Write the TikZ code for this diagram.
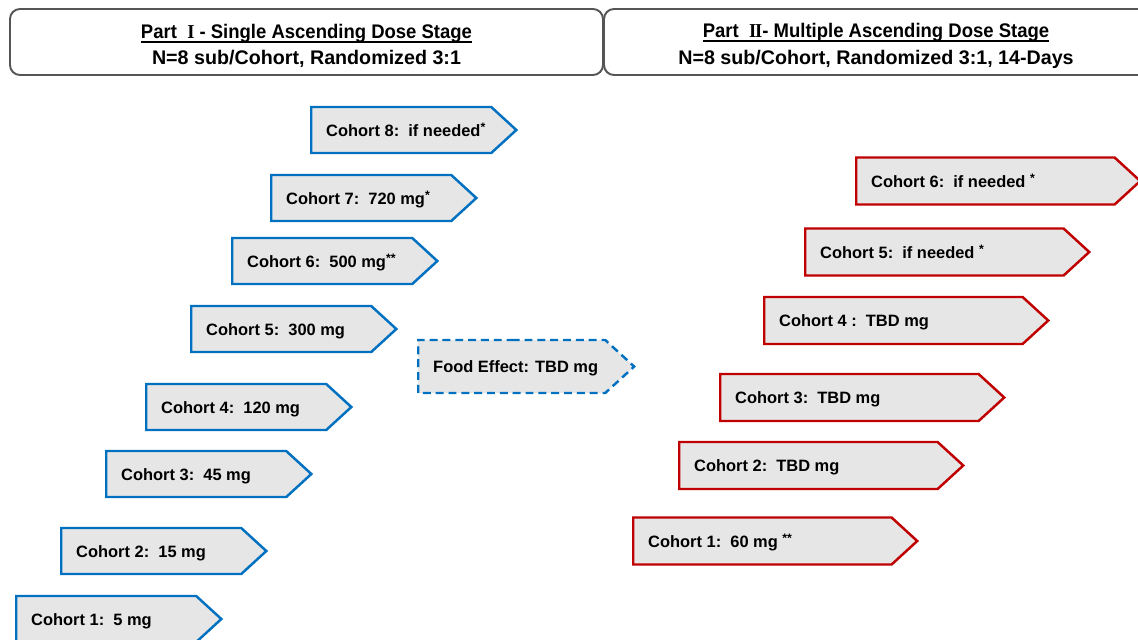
\documentclass[tikz,border=0pt]{standalone}
\usepackage{fontspec}
\usepackage{graphicx}
\setmainfont{Liberation Sans}
\newfontfamily\romfont{Liberation Serif}
\usetikzlibrary{shapes.symbols}
\definecolor{sadblue}{RGB}{0,112,192}
\definecolor{madred}{RGB}{192,0,0}
\definecolor{boxgray}{RGB}{231,230,230}
\definecolor{headgray}{RGB}{85,85,85}
\newcommand{\partline}[1]{\setbox0\hbox{\scalebox{0.94}[1]{#1}}\rule{0pt}{12.5pt}\rlap{\rule[-2.6pt]{\wd0}{0.9pt}}\box0}
\newcommand{\sstar}[1]{\raisebox{0.55ex}{\scriptsize #1}}
\tikzset{cohort/.style = {signal, signal to=east, signal pointer angle=85,
                          fill=boxgray, line width=1.4pt, anchor=west,
                          inner xsep=0.3cm, inner ysep=0,
                          text height=8.5pt, text depth=1.5pt,
                          execute at end node={\hss\egroup},
                          font=\fontsize{9.35}{11}\selectfont\bfseries}}
\tikzset{sad/.style = {cohort, draw=sadblue, minimum height=0.92cm,
                       execute at begin node={\hbox to 3.0cm\bgroup}}}
\tikzset{mad/.style = {cohort, draw=madred, minimum height=0.94cm,
                       execute at begin node={\hbox to 4.567cm\bgroup}}}
\tikzset{header/.style = {draw=headgray, line width=1.1pt, rounded corners=0.2cm,
                          minimum height=1.32cm, align=center,
                          font=\fontsize{11.2}{15.3}\selectfont\bfseries}}

\begin{document}
\begin{tikzpicture}
      \useasboundingbox (0, 0) rectangle (22.76, -12.78);
      \node [header, minimum width=11.86cm] (partone) at (6.13, -0.84)
            {\partline{Part \ {\romfont I} - Single Ascending Dose Stage}\\N=8 sub/Cohort, Randomized 3:1};
      \node [header, minimum width=10.88cm] (parttwo) at (17.52, -0.84)
            {\partline{Part \ {\romfont I\kern-0.06emI}- Multiple Ascending Dose Stage}\\N=8 sub/Cohort, Randomized 3:1, 14-Days};
      \node [sad] (b8) at (6.2, -2.6) {Cohort 8:\ \ if needed\sstar{*}};
      \node [sad] (b7) at (5.4, -3.96) {Cohort 7:\ \ 720 mg\sstar{*}};
      \node [sad] (b6) at (4.62, -5.22) {Cohort 6:\ \ 500 mg\sstar{**}};
      \node [sad] (b5) at (3.8, -6.58) {Cohort 5:\ \ 300 mg};
      \node [sad] (b4) at (2.9, -8.14) {Cohort 4:\ \ 120 mg};
      \node [sad] (b3) at (2.1, -9.48) {Cohort 3:\ \ 45 mg};
      \node [sad] (b2) at (1.2, -11.02) {Cohort 2:\ \ 15 mg};
      \node [sad] (b1) at (0.3, -12.38) {Cohort 1:\ \ 5 mg};
      \node [cohort, draw=sadblue, dashed, dash pattern=on 4.5pt off 2.8pt,
             minimum height=1.06cm, execute at begin node={\hbox to 3.14cm\bgroup}]
            (food) at (8.34, -7.33) {Food Effect: TBD mg};
      \node [mad] (r6) at (17.1, -3.62) {Cohort 6:\ \ if needed \sstar{*}};
      \node [mad] (r5) at (16.08, -5.04) {Cohort 5:\ \ if needed \sstar{*}};
      \node [mad] (r4) at (15.26, -6.41) {Cohort 4 :\ \ TBD mg};
      \node [mad] (r3) at (14.38, -7.95) {Cohort 3:\ \ TBD mg};
      \node [mad] (r2) at (13.56, -9.31) {Cohort 2:\ \ TBD mg};
      \node [mad] (r1) at (12.64, -10.82) {Cohort 1:\ \ 60 mg \sstar{**}};
    \end{tikzpicture}
\end{document}
